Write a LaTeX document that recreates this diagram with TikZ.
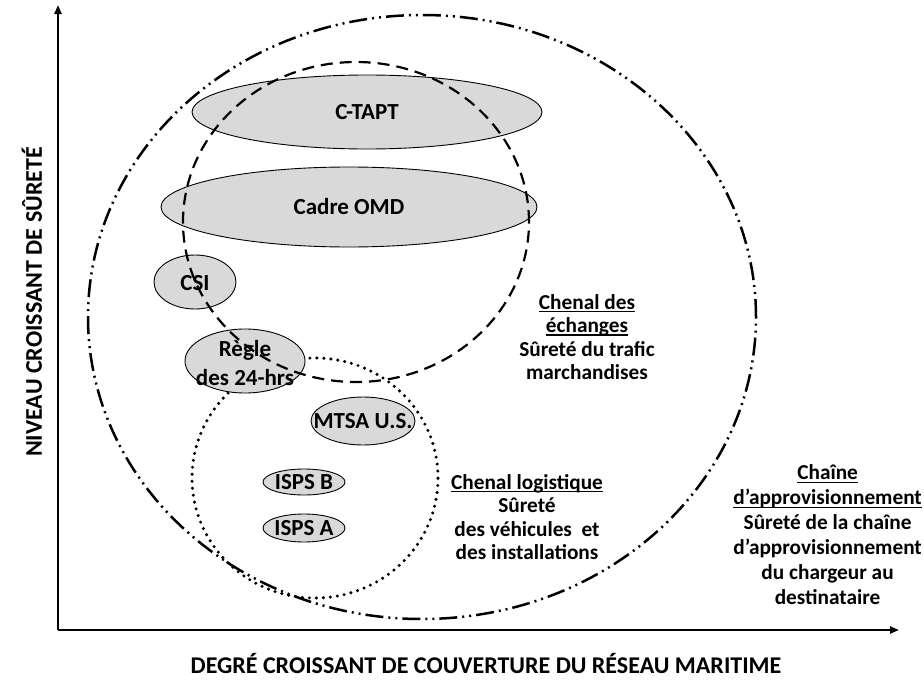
\documentclass[tikz,border=0pt]{standalone}
\usepackage{fontspec}
\setmainfont{Carlito}
\usetikzlibrary{arrows.meta}
\newcommand{\ulx}[1]{\setbox0\hbox{#1}\rlap{\rule[-3pt]{\wd0}{1.3pt}}\box0}
\begin{document}
\begin{tikzpicture}[x=1pt,y=-1pt,
  axis/.style={line width=2.2pt,-{Triangle[length=9pt,width=7pt]}},
  supply/.style={line width=2.5pt,dash pattern=on 18pt off 5pt on 2pt off 5pt on 2pt off 5pt},
  trade/.style={line width=2.2pt,dash pattern=on 12pt off 7pt},
  logi/.style={line width=3.4pt,line cap=round,dash pattern=on 0pt off 7pt},
  ebox/.style={fill=black!15,draw=black,line width=0.9pt},
  lbl/.style={font=\fontsize{21.3}{23.5}\selectfont\bfseries,align=center,inner sep=0pt},
  elbl/.style={font=\fontsize{23}{29}\selectfont\bfseries,align=center,inner sep=0pt},
  albl/.style={font=\fontsize{24}{28}\selectfont\bfseries,inner sep=0pt}]
\useasboundingbox (0,0) rectangle (924,680);

% axes
\coordinate (O) at (58,630);
\coordinate (ytop) at (58,5);
\coordinate (xend) at (899,630);
\draw[axis] (O) -- (ytop);
\draw[axis] (O) -- (xend);
\node[albl,rotate=90] (ylab) at (32,302) {NIVEAU CROISSANT DE SÛRETÉ};
\node[albl] (xlab) at (486,664) {DEGRÉ CROISSANT DE COUVERTURE DU RÉSEAU MARITIME};

% supply chain (dash-dot-dot)
\draw[supply] (422,317) ellipse [x radius=334pt, y radius=302pt];
% logistic channel (dotted)
\draw[logi] (315,478) ellipse [x radius=123pt, y radius=120pt];

% filled ellipses
\path[ebox] (367,112) ellipse [x radius=175pt, y radius=37pt];
\path[ebox] (349,207) ellipse [x radius=188pt, y radius=40pt];
\path[ebox] (195,282) ellipse [x radius=41pt, y radius=27pt];
\path[ebox] (245,361) ellipse [x radius=60pt, y radius=32pt];
\path[ebox] (363,421) ellipse [x radius=52pt, y radius=24pt];
\path[ebox] (304,482) ellipse [x radius=41pt, y radius=13pt];
\path[ebox] (304,528) ellipse [x radius=41pt, y radius=14pt];

\node[elbl] (ctapt) at (367,112) {C-TAPT};
\node[elbl] (omd) at (349,207) {Cadre OMD};
\node[elbl] (csi) at (195,283) {CSI};
\node[elbl] (regle) at (245,363) {Règle\\des 24-hrs};
\node[elbl] (mtsa) at (363,421) {MTSA U.S.};
\node[elbl] (ispsb) at (304,482) {ISPS B};
\node[elbl] (ispsa) at (304,528) {ISPS A};

% trade channel (dashed)
\draw[trade] (356,222) ellipse [x radius=173pt, y radius=160pt];

% side texts
\node[lbl] (trade) at (587,337) {\ulx{Chenal des}\\\ulx{échanges}\\Sûreté du trafic\\marchandises};
\node[lbl] (logist) at (527,517) {\ulx{Chenal logistique}\\Sûreté\\des véhicules\ \ et\\des installations};
\node[lbl,font=\fontsize{21.3}{25}\selectfont\bfseries,anchor=east] (chain) at (922,535) {\ulx{Chaîne}\\\ulx{d’approvisionnement}\\Sûreté de la chaîne\\d’approvisionnement\\du chargeur au\\destinataire};
\end{tikzpicture}
\end{document}
